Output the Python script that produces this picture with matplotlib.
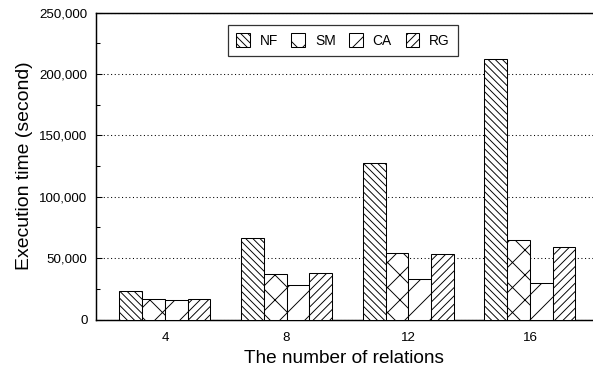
import matplotlib

matplotlib.use("Agg")
import matplotlib.pyplot as plt
import numpy as np
from matplotlib.ticker import FuncFormatter, MultipleLocator

plt.rcParams["font.family"] = ["Liberation Sans", "DejaVu Sans"]
plt.rcParams["hatch.linewidth"] = 0.45

# --- data -------------------------------------------------------------------
relations = ["4", "8", "12", "16"]
series = ["NF", "SM", "CA", "RG"]
nf = [23100, 66700, 127700, 212000]
sm = [16900, 37300, 54500, 64500]
ca = [16300, 27800, 33200, 30000]
rg = [17100, 38100, 53400, 59100]
hatches = ["\\" * 7, "xx", "//", "/" * 6]

# --- plot -------------------------------------------------------------------
DPI = 150
fig = plt.figure(figsize=(593 / DPI, 369 / DPI), dpi=DPI)
ax = fig.add_axes([0.1614, 0.134, 0.8386, 0.832])

x = np.arange(len(relations))
w = 0.187
for i, (name, vals, h) in enumerate(zip(series, [nf, sm, ca, rg], hatches)):
    ax.bar(x + (i - 1.5) * w, vals, w, facecolor="white", edgecolor="black",
           linewidth=0.5, hatch=h, label=name, zorder=3)

ax.set_xlim(-0.569, 3.518)
ax.set_ylim(0, 250000)
ax.set_xticks(x)
ax.set_xticklabels(relations)
ax.yaxis.set_major_locator(MultipleLocator(50000))
ax.yaxis.set_minor_locator(MultipleLocator(25000))
ax.yaxis.set_major_formatter(FuncFormatter(lambda v, _: f"{int(v):,}"))
ax.tick_params(axis="y", which="both", direction="in", labelsize=6.4,
               width=0.5, pad=4)
ax.tick_params(axis="y", which="major", length=3)
ax.tick_params(axis="y", which="minor", length=2)
ax.tick_params(axis="x", length=0, labelsize=6.4, pad=6)

ax.grid(axis="y", which="major", linestyle=(0, (1, 2.5)), color="black",
        linewidth=0.5, zorder=0)
ax.spines["right"].set_visible(False)
for s in ("left", "top", "bottom"):
    ax.spines[s].set_linewidth(0.7)

ax.set_xlabel("The number of relations", fontsize=9.1, labelpad=3)
ax.set_ylabel("Execution time (second)", fontsize=9.3, labelpad=3)

leg = ax.legend(loc="upper center", bbox_to_anchor=(0.497, 0.959), ncol=4,
                fontsize=6.6, frameon=True, fancybox=False, edgecolor="black",
                handlelength=1.0, handleheight=1.1, handletextpad=0.7,
                columnspacing=1.0, borderpad=0.6, borderaxespad=0)
leg.get_frame().set_linewidth(0.6)

fig.savefig("out.png", dpi=DPI)
